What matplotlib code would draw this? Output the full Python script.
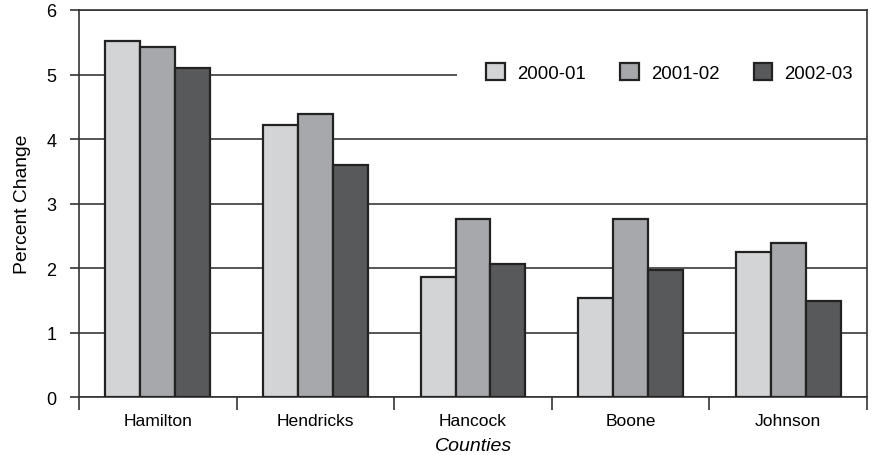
import numpy as np
import matplotlib
matplotlib.use('Agg')
import matplotlib.pyplot as plt

# дані з графіка
counties = ['Hamilton', 'Hendricks', 'Hancock', 'Boone', 'Johnson']
years = ['2000-01', '2001-02', '2002-03']
change_2000_01 = [5.52, 4.22, 1.87, 1.54, 2.25]
change_2001_02 = [5.43, 4.39, 2.76, 2.76, 2.39]
change_2002_03 = [5.10, 3.60, 2.06, 1.97, 1.50]

colors = ['#d3d4d6', '#a7a8ab', '#58595b']

plt.rcParams['font.family'] = ['Liberation Sans', 'DejaVu Sans']

fig = plt.figure(figsize=(8.71, 4.56), dpi=100)
ax = fig.add_axes([0.0907, 0.1261, 0.9047, 0.8498])

x = np.arange(len(counties))
w = 0.222
series = [change_2000_01, change_2001_02, change_2002_03]
for i, vals in enumerate(series):
    ax.bar(x + (i - 1) * w, vals, width=w, color=colors[i], edgecolor='#222222',
           linewidth=1.6, label=years[i], zorder=3)

ax.set_xlim(-0.5, 4.5)
ax.set_ylim(0, 6)
ax.set_yticks(range(0, 7))
ax.yaxis.grid(True, color='#555555', linewidth=1.4, zorder=1)
ax.tick_params(axis='y', length=6.2, width=1.2, color='#333333', labelsize=13, pad=10)

# мітки категорій по центру, риски на межах
ax.set_xticks(np.arange(-0.5, 5.0, 1.0))
ax.set_xticklabels([])
ax.set_xticks(x, minor=True)
ax.set_xticklabels(counties, minor=True)
ax.tick_params(axis='x', which='major', length=9, width=1.2, color='#333333')
ax.tick_params(axis='x', which='minor', length=0, labelsize=12.6, pad=11)

for s in ax.spines.values():
    s.set_color('#333333')
    s.set_linewidth(1.2)

ax.set_ylabel('Percent Change', fontsize=13.9, labelpad=11)
ax.set_xlabel('Counties', fontsize=14, style='italic', labelpad=7)

# біле тло під легендою перекриває лінію сітки
ax.axhspan(4.85, 5.15, xmin=0.48, xmax=1.0, color='white', lw=0, zorder=2)

leg = ax.legend(ncol=3, loc='center right', bbox_to_anchor=(1.0, 0.838),
                frameon=False, fontsize=13.4, handlelength=1.0, handleheight=1.0,
                columnspacing=1.85, handletextpad=0.65, borderpad=0.75,
                borderaxespad=0)
leg.set_zorder(5)
for h in leg.legend_handles:
    h.set_linewidth(1.6)

fig.savefig('out.png', dpi=100)
